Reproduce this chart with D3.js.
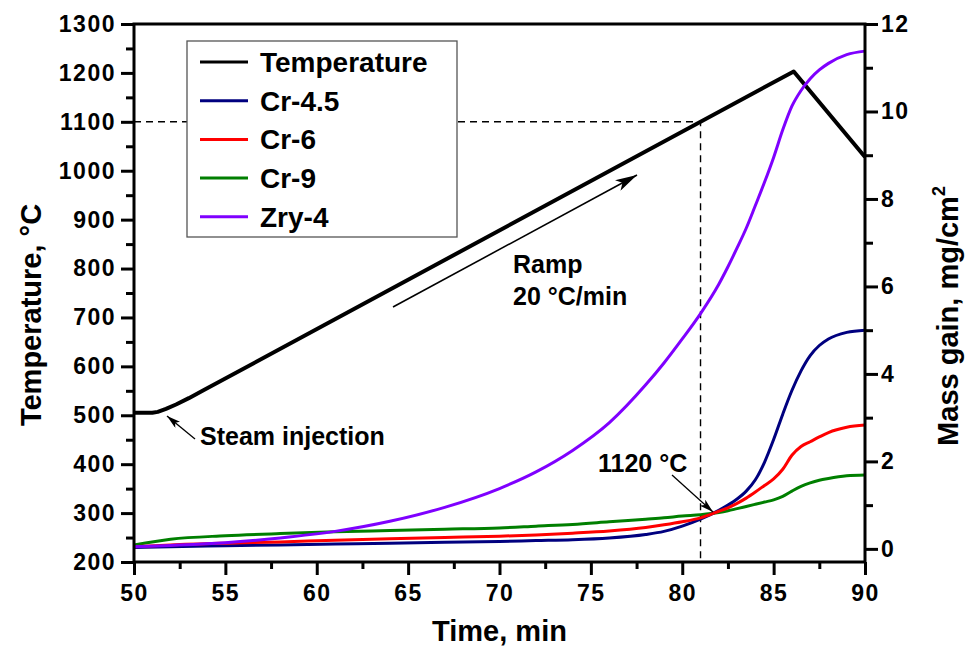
<!DOCTYPE html>
<html>
<head>
<meta charset="utf-8">
<script src="https://cdn.jsdelivr.net/npm/d3@7"></script>
<style>
body{margin:0;background:#fff;}
svg text{font-family:"Liberation Sans",Arial,sans-serif;font-weight:bold;fill:#000;}
.tick text{font-size:23px;letter-spacing:1.5px;}
</style>
</head>
<body>
<div id="chart"></div>
<script>
// temperature program (left axis)
var tempTime=[50,51,51.3,51.75,52.3,53,53.8,86.1,90];
var tempVal=[505,505,507,513,522,535,551,1203,1028];

// mass gain (right axis), shared time grid
var massTime=[50,52,55,58,61,64,67,70,72,74,76,78,79,80,81,82,82.5,83,83.5,84,84.5,85,85.5,86,86.5,87,87.5,88,89,90];
var cr45=[0.03,0.05,0.07,0.09,0.11,0.13,0.15,0.17,0.19,0.21,0.25,0.33,0.40,0.52,0.68,0.88,1.00,1.14,1.32,1.58,1.98,2.50,3.08,3.62,4.07,4.42,4.65,4.80,4.95,5.00];
var cr6=[0.05,0.09,0.13,0.16,0.20,0.23,0.26,0.29,0.32,0.36,0.41,0.49,0.55,0.62,0.71,0.86,0.94,1.04,1.16,1.30,1.45,1.60,1.82,2.14,2.34,2.45,2.56,2.66,2.78,2.83];
var cr9=[0.09,0.22,0.30,0.35,0.39,0.42,0.45,0.48,0.52,0.56,0.62,0.68,0.71,0.75,0.78,0.83,0.87,0.92,0.97,1.02,1.07,1.12,1.20,1.32,1.43,1.51,1.57,1.61,1.67,1.69];
var zry4=[0.05,0.08,0.14,0.25,0.40,0.63,0.95,1.38,1.76,2.25,2.88,3.75,4.25,4.80,5.38,6.05,6.45,6.88,7.33,7.85,8.38,8.95,9.58,10.12,10.48,10.75,10.95,11.10,11.30,11.38];

var seriesNames=["Temperature","Cr-4.5","Cr-6","Cr-9","Zry-4"];
var seriesColors=["#000000","#00007f","#ff0000","#007f00","#7f00ff"];

var xTicks=[50,55,60,65,70,75,80,85,90];
var tempTicks=d3.range(200,1301,100);
var massTicks=[0,2,4,6,8,10,12];

var width=966,height=646;
var plotL=134,plotR=865,plotT=24,plotB=562;

var svg=d3.select("#chart").append("svg")
	.attr("width",width)
	.attr("height",height);

var x=d3.scaleLinear().domain([50,90]).range([plotL,plotR]);
var yT=d3.scaleLinear().domain([200,1300]).range([plotB,plotT]);
var yM=d3.scaleLinear().domain([-0.3,12]).range([plotB,plotT]);

var defs=svg.append("defs");
function arrowHead(id,w,h){
	defs.append("marker")
		.attr("id",id)
		.attr("viewBox","0 0 "+w+" "+h)
		.attr("refX",w).attr("refY",h/2)
		.attr("markerWidth",w).attr("markerHeight",h)
		.attr("markerUnits","userSpaceOnUse")
		.attr("orient","auto")
		.append("path")
		.attr("d","M0,0L"+w+","+(h/2)+"L0,"+h+"L"+(w*0.25)+","+(h/2)+"Z")
		.attr("fill","#000");
}
arrowHead("bigArrow",22,12);
arrowHead("smallArrow",14,8);

// dashed guide lines at 1100 C / 81 min
svg.append("path")
	.attr("d","M"+plotL+","+yT(1100)+"H"+x(81)+"V"+plotB)
	.attr("fill","none")
	.attr("stroke","#000")
	.attr("stroke-width",1.4)
	.attr("stroke-dasharray","7,5");

// lines
var lineT=d3.line()
	.x(function(d,i){return x(tempTime[i]);})
	.y(function(d){return yT(d);});
var lineM=d3.line()
	.curve(d3.curveMonotoneX)
	.x(function(d,i){return x(massTime[i]);})
	.y(function(d){return yM(d);});

svg.append("path")
	.attr("d",lineT(tempVal))
	.attr("fill","none")
	.attr("stroke",seriesColors[0])
	.attr("stroke-width",4)
	.attr("stroke-linejoin","round");

var massData=[cr9,cr45,cr6,zry4];
var massColors=[seriesColors[3],seriesColors[1],seriesColors[2],seriesColors[4]];
svg.append("g").selectAll("path")
	.data(massData)
	.enter().append("path")
	.attr("d",function(d){return lineM(d);})
	.attr("fill","none")
	.attr("stroke",function(d,i){return massColors[i];})
	.attr("stroke-width",3);

// axes
var ax=svg.append("g").attr("class","axes");
ax.append("g")
	.attr("transform","translate("+plotL+",0)")
	.call(d3.axisLeft(yT).tickValues(d3.range(250,1300,100)).tickSize(8).tickFormat(""));
ax.append("g")
	.attr("transform","translate("+plotL+",0)")
	.call(d3.axisLeft(yT).tickValues(tempTicks).tickSize(13).tickPadding(5).tickFormat(d3.format("d")));
ax.append("g")
	.attr("transform","translate(0,"+plotB+")")
	.call(d3.axisBottom(x).tickValues(d3.range(52.5,90,5)).tickSize(7).tickFormat(""));
ax.append("g")
	.attr("transform","translate(0,"+plotB+")")
	.call(d3.axisBottom(x).tickValues(xTicks).tickSize(13).tickPadding(10).tickFormat(d3.format("d")));
ax.append("g")
	.attr("transform","translate("+plotR+",0)")
	.call(d3.axisRight(yM).tickValues([1,3,5,7,9,11]).tickSize(8).tickFormat(""));
ax.append("g")
	.attr("transform","translate("+plotR+",0)")
	.call(d3.axisRight(yM).tickValues(massTicks).tickSize(13).tickPadding(3).tickFormat(d3.format("d")));
ax.selectAll(".domain").remove();
ax.selectAll(".tick line").attr("stroke","#000").attr("stroke-width",3);

svg.append("rect")
	.attr("x",plotL).attr("y",plotT)
	.attr("width",plotR-plotL).attr("height",plotB-plotT)
	.attr("fill","none")
	.attr("stroke","#000")
	.attr("stroke-width",3);

// axis titles
svg.append("text")
	.attr("x",(plotL+plotR)/2).attr("y",641)
	.attr("text-anchor","middle")
	.style("font-size","29px")
	.text("Time, min");
svg.append("text")
	.attr("transform","translate(41,315) rotate(-90)")
	.attr("text-anchor","middle")
	.style("font-size","29px")
	.text("Temperature, °C");
var rt=svg.append("text")
	.attr("transform","translate(958,316) rotate(-90)")
	.attr("text-anchor","middle")
	.style("font-size","29px")
	.text("Mass gain, mg/cm");
rt.append("tspan")
	.attr("dy",-13)
	.style("font-size","18px")
	.text("2");

// legend
var lg=svg.append("g").attr("transform","translate(187,41)");
lg.append("rect")
	.attr("width",270).attr("height",196)
	.attr("fill","#fff")
	.attr("stroke","#555")
	.attr("stroke-width",1.3);
var item=lg.selectAll("g.item")
	.data(seriesNames)
	.enter().append("g")
	.attr("class","item")
	.attr("transform",function(d,i){return "translate(0,"+(21+38.7*i)+")";});
item.append("line")
	.attr("x1",13).attr("x2",61)
	.attr("stroke",function(d,i){return seriesColors[i];})
	.attr("stroke-width",3);
item.append("text")
	.attr("x",73).attr("y",10)
	.style("font-size","28px")
	.text(function(d){return d;});

// annotations
svg.append("line")
	.attr("x1",393).attr("y1",307).attr("x2",637).attr("y2",175)
	.attr("stroke","#000").attr("stroke-width",1.6)
	.attr("marker-end","url(#bigArrow)");
svg.append("text").attr("x",513).attr("y",273).style("font-size","25px").text("Ramp");
svg.append("text").attr("x",513).attr("y",305).style("font-size","25px").text("20 °C/min");

svg.append("line")
	.attr("x1",195).attr("y1",439).attr("x2",167).attr("y2",416)
	.attr("stroke","#000").attr("stroke-width",1.3)
	.attr("marker-end","url(#smallArrow)");
svg.append("text").attr("x",200).attr("y",445).style("font-size","25px").text("Steam injection");

svg.append("line")
	.attr("x1",672).attr("y1",475).attr("x2",713).attr("y2",512)
	.attr("stroke","#000").attr("stroke-width",1.3)
	.attr("marker-end","url(#smallArrow)");
svg.append("text").attr("x",598).attr("y",472).style("font-size","25px").text("1120 °C");
</script>
</body>
</html>
